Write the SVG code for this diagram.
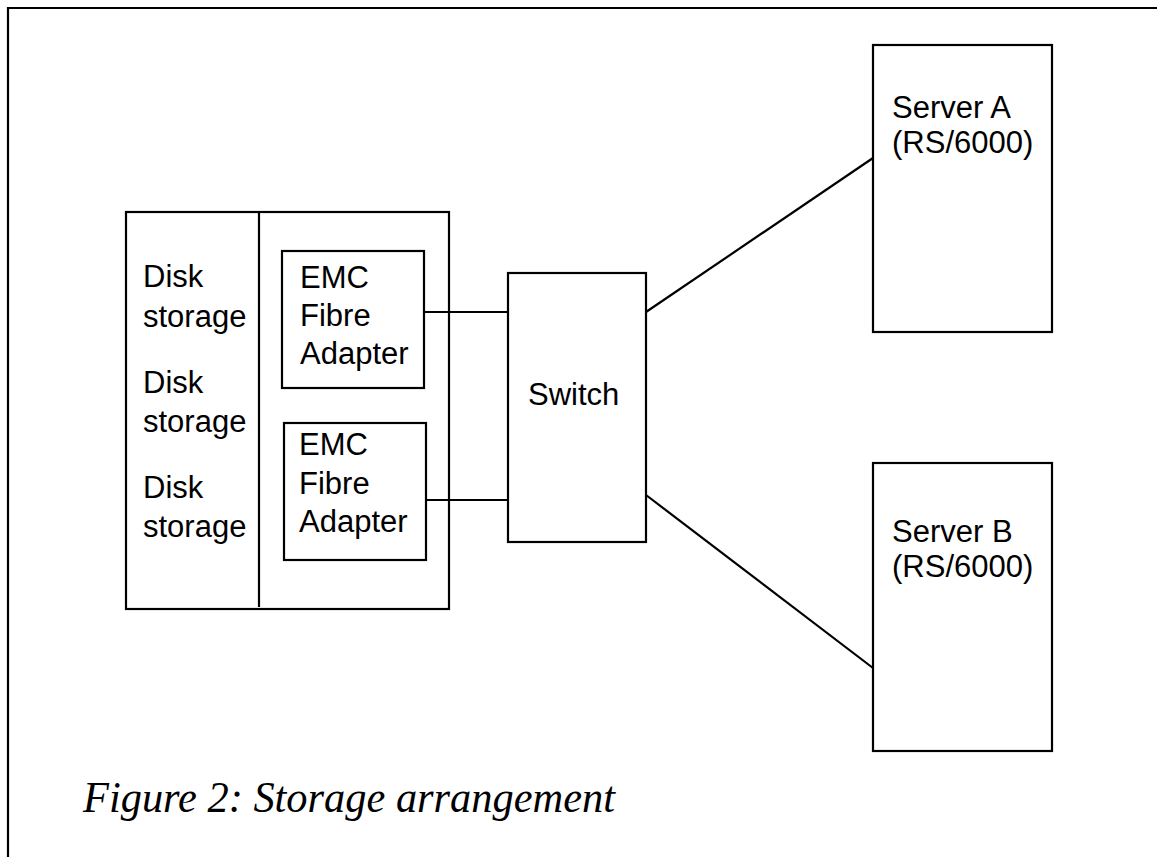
<svg xmlns="http://www.w3.org/2000/svg" width="1157" height="857" viewBox="0 0 1157 857">
<style>
.box{fill:none;stroke:#000;stroke-width:2.2}
.ln{stroke:#000;stroke-width:2.2;fill:none}
.t{font-family:"Liberation Sans",Arial,sans-serif;font-size:31px;fill:#000}
.cap{font-family:"Liberation Serif","Times New Roman",serif;font-style:italic;font-size:44px;fill:#000}
</style>
<rect width="1157" height="857" fill="#fff"/>
<g id="frame">
<path class="ln" d="M8,857 V8 H1157" stroke-width="2.6"/>
</g>
<g id="storage">
<rect class="box" x="126" y="212" width="323" height="397"/>
<line class="ln" x1="259" y1="211" x2="259" y2="607"/>
<text class="t" x="143" y="287">Disk</text>
<text class="t" x="143" y="327">storage</text>
<text class="t" x="143" y="393">Disk</text>
<text class="t" x="143" y="432">storage</text>
<text class="t" x="143" y="498">Disk</text>
<text class="t" x="143" y="537">storage</text>
</g>
<g id="adapter1">
<rect class="box" x="282" y="251" width="142" height="137"/>
<text class="t" x="300" y="288">EMC</text>
<text class="t" x="300" y="326">Fibre</text>
<text class="t" x="300" y="364">Adapter</text>
</g>
<g id="adapter2">
<rect class="box" x="284" y="423" width="142" height="137"/>
<text class="t" x="299" y="455">EMC</text>
<text class="t" x="299" y="494">Fibre</text>
<text class="t" x="299" y="532">Adapter</text>
</g>
<g id="switch">
<rect class="box" x="508" y="273" width="138" height="269"/>
<text class="t" x="528" y="405">Switch</text>
</g>
<g id="serverA">
<rect class="box" x="873" y="45" width="179" height="287"/>
<text class="t" x="892" y="118">Server A</text>
<text class="t" x="892" y="153">(RS/6000)</text>
</g>
<g id="serverB">
<rect class="box" x="873" y="463" width="179" height="288"/>
<text class="t" x="892" y="542">Server B</text>
<text class="t" x="892" y="577">(RS/6000)</text>
</g>
<g id="connectors">
<line class="ln" x1="424" y1="312" x2="508" y2="312"/>
<line class="ln" x1="426" y1="500" x2="508" y2="500"/>
<line class="ln" x1="646" y1="312" x2="873" y2="158"/>
<line class="ln" x1="646" y1="495" x2="873" y2="668"/>
</g>
<g id="caption">
<text class="cap" x="83" y="812" textLength="532" lengthAdjust="spacingAndGlyphs">Figure 2: Storage arrangement</text>
</g>
</svg>
